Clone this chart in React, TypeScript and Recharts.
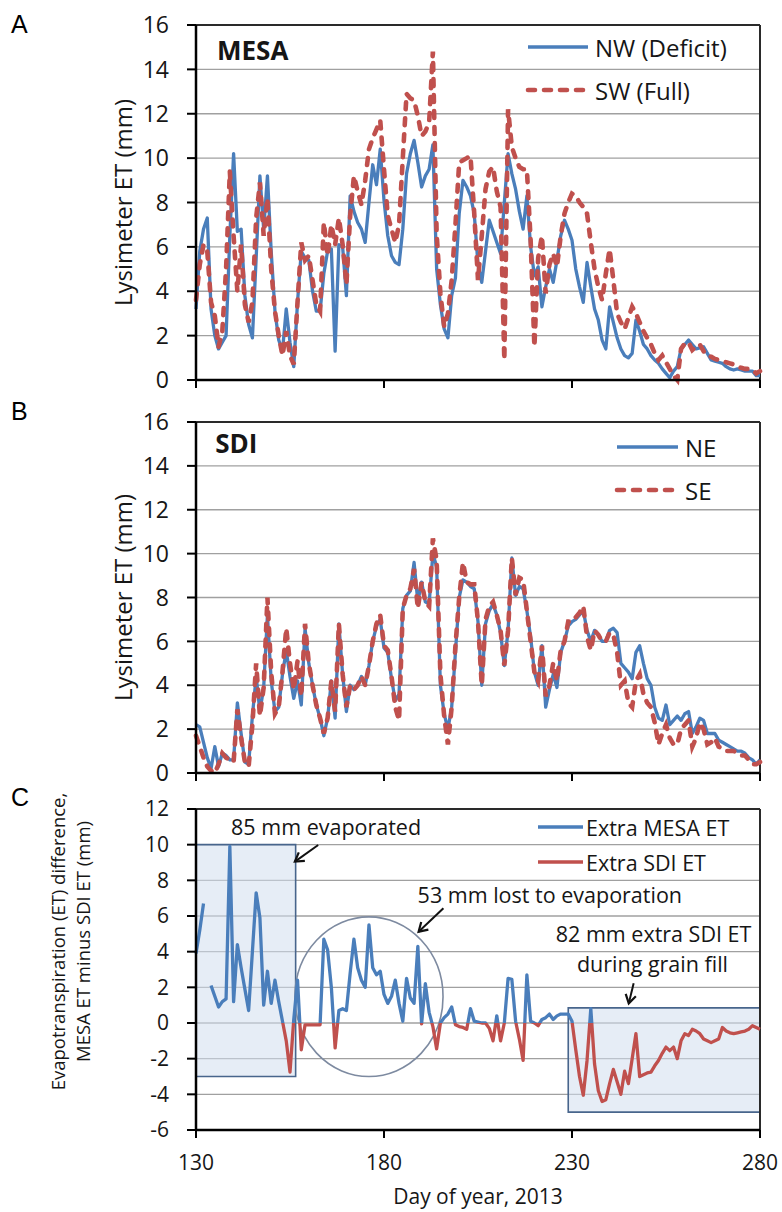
import React from 'react';
import {
  LineChart,
  Line,
  XAxis,
  YAxis,
  CartesianGrid,
  ReferenceLine,
  ReferenceArea,
  ReferenceDot,
  Legend,
} from 'recharts';

// ---- axes -------------------------------------------------------------
const FIRST_DAY = 130;
const DAY_TICKS = [130, 180, 230, 280];
const ET_TICKS = [0, 2, 4, 6, 8, 10, 12, 14, 16];
const DIFF_TICKS = [-6, -4, -2, 0, 2, 4, 6, 8, 10, 12];

// ---- daily lysimeter ET (mm), day of year 130..280 ---------------------
const MESA_NW = [
  3.2, 5.8, 6.8, 7.3, 3.2, 2.0, 1.4, 1.7, 2.0, 6.5,
  10.2, 6.7, 6.8, 3.8, 2.5, 1.9, 5.5, 9.2, 6.8, 9.2,
  5.8, 3.1, 1.8, 1.3, 3.2, 1.7, 0.6, 3.5, 5.8, 5.5,
  5.4, 4.0, 3.1, 3.1, 4.8, 5.8, 5.9, 1.3, 6.1, 6.0,
  3.8, 8.3, 7.6, 7.1, 6.8, 6.2, 8.0, 9.7, 8.8, 10.4,
  8.1, 6.5, 5.6, 5.3, 5.2, 6.8, 9.3, 10.2, 10.8, 9.8,
  8.7, 9.2, 9.5, 10.6, 5.0, 3.4, 2.3, 1.9, 3.8, 4.6,
  7.5, 9.0, 8.7, 8.3, 7.5, 5.2, 4.4, 5.8, 7.2, 6.7,
  6.2, 5.7, 8.0, 10.2, 9.3, 8.6, 7.6, 6.8, 8.3, 6.0,
  4.7, 5.1, 3.3, 4.2, 5.0, 4.4, 5.4, 6.5, 7.2, 6.8,
  6.3, 5.0, 4.2, 3.5, 5.3, 4.2, 3.2, 2.7, 1.8, 1.4,
  3.3, 2.6, 1.9, 1.4, 1.1, 1.0, 1.2, 2.7, 2.2, 1.6,
  1.4, 1.1, 0.9, 0.75, 0.5, 0.3, 0.1, 0.4, 0.6, 1.4,
  1.6, 1.8, 1.6, 1.4, 1.45, 1.5, 1.2, 0.9, 0.85, 0.8,
  0.75, 0.6, 0.5, 0.45, 0.5, 0.45, 0.4, 0.4, 0.4, 0.2,
  0.2,
];

const MESA_SW = [
  3.6, 5.2, 6.1, 5.8, 3.5, 2.9, 1.5, 2.2, 5.0, 9.4,
  6.5, 4.0, 6.1, 3.4, 2.6, 3.5, 7.3, 8.9, 6.5, 8.2,
  5.0, 3.1, 2.0, 1.1, 2.2, 1.1, 0.7, 3.5, 6.2, 5.4,
  5.6, 4.5, 3.4, 3.1, 7.1, 5.6, 7.0, 6.1, 7.3, 6.1,
  4.3, 7.4, 9.2, 8.5, 7.9, 9.0, 10.4, 10.9, 11.3, 11.7,
  9.5, 7.4, 6.8, 6.2, 7.0, 10.0, 12.9, 12.7, 12.6, 11.9,
  11.0, 11.2, 11.6, 14.8, 6.6, 3.9, 2.4, 3.0, 4.5, 7.0,
  9.8, 9.9, 10.0, 10.1, 7.5, 4.5, 6.5, 8.6, 9.4, 9.6,
  8.5, 7.8, 0.9, 12.2, 10.5, 10.0, 9.6, 9.5, 9.5, 6.3,
  1.5, 5.5, 6.5, 3.9, 5.2, 5.7, 5.1, 6.5, 7.5, 8.0,
  8.4, 8.3, 8.0, 7.8, 7.5, 6.2, 5.0, 4.2, 3.6, 4.8,
  5.9, 4.5, 3.0, 2.6, 2.3, 2.8, 3.3, 3.0, 2.6, 2.2,
  1.9, 1.6, 1.2, 0.9, 1.1, 0.8, 0.5, 0.2, 0.0, 1.4,
  1.65, 1.7, 1.35, 1.5, 1.6, 1.3, 1.1, 1.05, 0.95, 0.9,
  0.85, 0.8, 0.75, 0.7, 0.6, 0.55, 0.5, 0.5, 0.45, 0.3,
  0.4,
];

const SDI_NE = [
  2.2, 2.1, 1.4, 0.7, 0.2, 1.2, 0.3, 0.9, 0.8, 0.6,
  0.6, 3.2, 1.8, 0.5, 0.4, 2.6, 4.4, 2.8, 3.9, 7.2,
  4.2, 2.8, 3.0, 4.5, 5.6, 4.4, 3.4, 4.2, 3.1, 6.6,
  5.0, 4.0, 3.1, 2.5, 1.7, 2.5, 4.2, 2.5, 6.8, 4.5,
  2.8, 4.0, 3.8, 4.0, 4.4, 4.0, 4.9, 6.0, 6.7, 7.0,
  5.7, 5.5, 4.3, 3.3, 3.6, 7.5, 8.1, 8.3, 9.6, 7.8,
  8.7, 7.8, 7.7, 10.0, 9.4, 4.0, 2.7, 2.0, 3.0, 5.5,
  8.0, 8.8, 8.7, 8.5, 8.4, 6.9, 4.0, 6.8, 7.4, 7.7,
  7.2, 6.4, 4.9, 6.5, 9.8, 8.1, 8.5, 8.4, 7.4, 6.2,
  4.6, 4.0, 5.8, 3.0, 3.8, 4.5, 3.9, 5.5, 6.0, 6.7,
  6.9, 7.0, 7.2, 7.4, 6.5, 6.0, 6.5, 6.3, 6.0, 6.0,
  6.5, 6.6, 6.4, 5.0, 4.8, 4.6, 4.3, 5.5, 5.8, 5.0,
  4.3, 4.0, 3.0, 2.5, 2.4, 3.1, 2.2, 2.4, 2.6, 2.4,
  2.7, 2.8, 1.8, 2.1, 2.5, 2.4, 1.8, 1.8, 1.8, 1.5,
  1.4, 1.3, 1.2, 1.1, 1.0, 1.0, 0.9, 0.7, 0.6, 0.4,
  0.6,
];

const SDI_SE = [
  1.7, 1.2, 0.7, 0.3, 0.1, 0.0, 0.4, 0.9, 0.7, 0.6,
  0.5, 2.9, 1.6, 0.5, 0.3, 2.2, 5.0, 2.6, 3.9, 8.0,
  4.6, 2.7, 3.0, 4.6, 6.6, 5.0, 3.8, 5.1, 3.5, 6.8,
  5.0, 4.0, 3.1, 2.5, 1.8, 2.5, 4.2, 2.8, 6.8, 4.5,
  3.0, 4.0, 3.8, 4.0, 4.4, 4.0, 4.9, 6.0, 6.8, 7.2,
  5.8, 5.6, 4.4, 3.0, 2.4, 7.5, 8.1, 8.4, 9.3, 7.5,
  8.7, 7.8, 7.6, 10.7, 9.7, 4.5, 2.6, 1.3, 3.0, 5.8,
  8.0, 9.6, 8.7, 8.6, 8.6, 6.9, 4.0, 7.0, 7.6, 7.8,
  7.2, 6.5, 4.9, 6.5, 9.8, 8.1, 8.9, 8.8, 7.4, 6.0,
  4.6, 4.2, 5.8, 3.5, 4.0, 5.0, 4.2, 5.6, 6.0, 6.9,
  6.9, 7.1, 7.3, 7.6, 6.2, 5.6, 6.5, 6.3, 6.0, 6.0,
  6.4, 6.3, 5.5, 4.0, 4.2, 3.2, 3.0, 4.2, 4.5, 3.6,
  3.2, 3.0, 2.3, 1.3, 1.8, 2.2, 1.6, 1.3, 1.3, 2.0,
  2.2, 2.4, 1.2, 1.6, 2.3, 2.0, 1.3, 1.4, 1.6, 1.2,
  1.1, 1.0, 1.0, 1.0, 0.9, 0.8, 0.8, 0.6, 0.4, 0.4,
  0.5,
];

// MESA ET minus SDI ET (mm); positive = extra MESA ET, negative = extra SDI ET
const ET_DIFF: (number | null)[] = [
  3.9, 5.2, 6.7, null, 2.1, 1.5, 0.9, 1.2, 1.35, 9.9,
  1.2, 4.4, 3.1, 1.9, 0.7, 4.0, 7.3, 5.9, 1.0, 2.9,
  1.1, 2.4, 1.2, 0.1, -1.0, -2.75, 0.2, 2.4, -1.5, -0.1,
  -0.1, -0.1, -0.1, -0.1, 4.7, 4.1, 2.0, -1.4, 0.7, 0.8,
  0.7, 2.8, 4.7, 3.1, 2.4, 2.0, 5.5, 3.1, 2.7, 2.9,
  1.6, 1.1, 1.5, 2.4, 1.1, 0.1, 2.5, 1.4, 1.1, 4.3,
  -0.05, 2.2, 0.6, -0.2, -1.45, 0.0, 0.3, 0.5, 0.9, -0.1,
  -0.2, -0.25, -0.35, 0.8, 0.1, 0.05, 0.0, 0.0, -0.3, -1.0,
  0.4, -1.0, 0.0, 2.5, 2.45, 0.1, -0.9, -2.1, 2.7, 0.1,
  0.0, -0.15, 0.2, 0.3, 0.5, 0.2, 0.4, 0.5, 0.5, 0.5,
  0.1, -1.5, -3.0, -4.05, -2.1, 0.8, -2.3, -3.8, -4.4, -4.3,
  -3.4, -2.6, -3.3, -4.0, -2.7, -3.4, -2.0, -0.6, -3.0, -2.9,
  -2.8, -2.75, -2.4, -2.1, -1.7, -1.35, -1.55, -1.35, -2.0, -1.0,
  -0.6, -0.7, -0.35, -0.45, -0.6, -0.9, -1.0, -1.1, -1.0, -0.9,
  -0.25, -0.45, -0.55, -0.6, -0.55, -0.5, -0.45, -0.35, -0.15, -0.25,
  -0.35,
];

// highlighted periods in panel C (day range, mm range)
const EVAP_BOX = { x1: 130, x2: 156.5, y1: -3, y2: 10 };
const EVAP_RING = { x1: 156.3, x2: 195.7, y1: -3, y2: 5.95 };
const GRAIN_FILL_BOX = { x1: 229, x2: 280, y1: -5, y2: 0.85 };

const DAYS = MESA_NW.map((_, i) => FIRST_DAY + i);
const mesaData = DAYS.map((day, i) => ({ day, nw: MESA_NW[i], sw: MESA_SW[i] }));
const sdiData = DAYS.map((day, i) => ({ day, ne: SDI_NE[i], se: SDI_SE[i] }));
const diffData = DAYS.map((day, i) => ({ day, diff: ET_DIFF[i] }));

// where zero falls inside the difference line's bounding box
const diffVals = ET_DIFF.filter((v): v is number => v !== null);
const diffMax = Math.max(...diffVals);
const diffMin = Math.min(...diffVals);
const zeroOffset = diffMax / (diffMax - diffMin);

// ---- styling ----------------------------------------------------------
const BLUE = '#4a7ebb';
const RED = '#c0504d';
const FONT = '"Open Sans", "Noto Sans", sans-serif';
const INK = '#161616';
const GRID = '#a0a0a0';
const AXIS_LINE = { stroke: '#000', strokeWidth: 2.5 };
const TICK_LINE = { stroke: '#000', strokeWidth: 2 };
const FRAME = '#2a2a2a';
const WIDTH = 782;
const PLOT_LEFT = 196;
const MARGIN_RIGHT = 22;
const SOLID_W = 3.3;
const DASH_W = 4.6;
const DASH = '7 9';

type LegendItem = { label: string; color: string; dash?: string; width: number };

const legendContent =
  (items: LegendItem[], lineFrom: number, lineTo: number, textX: number, rowY: number[], size: number) =>
  () => (
    <svg width={260} height={rowY[rowY.length - 1] + 25} style={{ display: 'block', overflow: 'visible' }}>
      {items.map((it, i) => (
        <g key={it.label}>
          <line
            x1={lineFrom}
            x2={lineTo}
            y1={rowY[i]}
            y2={rowY[i]}
            stroke={it.color}
            strokeWidth={it.width}
            strokeDasharray={it.dash}
            strokeLinecap={it.dash ? 'round' : 'butt'}
          />
          <text
            x={textX}
            y={rowY[i]}
            dominantBaseline="central"
            fontFamily={FONT}
            fontSize={size}
            fill={INK}
          >
            {it.label}
          </text>
        </g>
      ))}
    </svg>
  );

const yLabel =
  (lines: string[], offsets: number[], shift: number, size: number) => (props: any) => {
    const vb = props.viewBox || {};
    const axisX = (vb.x || 0) + (vb.width || 0);
    const cy = (vb.y || 0) + (vb.height || 0) / 2 + shift;
    return (
      <g>
        {lines.map((t, i) => {
          const x = axisX - offsets[i];
          return (
            <text
              key={t}
              x={x}
              y={cy}
              transform={`rotate(-90 ${x} ${cy})`}
              textAnchor="middle"
              dominantBaseline="central"
              fontFamily={FONT}
              fontSize={size}
              fill={INK}
            >
              {t}
            </text>
          );
        })}
      </g>
    );
  };

const xLabel = (text: string, below: number, size: number) => (props: any) => {
  const vb = props.viewBox || {};
  return (
    <text
      x={(vb.x || 0) + (vb.width || 0) / 2}
      y={(vb.y || 0) + below}
      textAnchor="middle"
      fontFamily={FONT}
      fontSize={size}
      fill={INK}
    >
      {text}
    </text>
  );
};

const textAt =
  (text: string, size: number, anchor: 'start' | 'middle', weight: number = 400) =>
  (p: any) => (
    <text
      x={p.cx}
      y={p.cy}
      textAnchor={anchor}
      fontFamily={FONT}
      fontSize={size}
      fontWeight={weight}
      fill={INK}
    >
      {text}
    </text>
  );

const arrowShape = (p: any) => {
  const x1 = Number(p.x1);
  const y1 = Number(p.y1);
  const x2 = Number(p.x2);
  const y2 = Number(p.y2);
  const ang = Math.atan2(y2 - y1, x2 - x1);
  const len = 10;
  const spread = 0.55;
  const a = [x2 - len * Math.cos(ang - spread), y2 - len * Math.sin(ang - spread)];
  const b = [x2 - len * Math.cos(ang + spread), y2 - len * Math.sin(ang + spread)];
  return (
    <g>
      <line x1={x1} y1={y1} x2={x2} y2={y2} stroke="#111" strokeWidth={2} />
      <polyline
        points={`${a[0]},${a[1]} ${x2},${y2} ${b[0]},${b[1]}`}
        fill="none"
        stroke="#111"
        strokeWidth={2.2}
        strokeLinejoin="miter"
      />
    </g>
  );
};

const ringShape = (p: any) => {
  const w = Number(p.width);
  const h = Number(p.height);
  return (
    <ellipse
      cx={Number(p.x) + w / 2}
      cy={Number(p.y) + h / 2}
      rx={w / 2}
      ry={h / 2}
      fill="none"
      stroke="#7d8aa0"
      strokeWidth={1.6}
    />
  );
};

const xAxisNoLabels = (
  <XAxis
    type="number"
    dataKey="day"
    domain={[130, 280]}
    ticks={DAY_TICKS}
    interval={0}
    height={12}
    tickSize={8}
    tickFormatter={() => ''}
    axisLine={AXIS_LINE}
    tickLine={TICK_LINE}
  />
);

function PanelLetters() {
  const letters = [
    { t: 'A', y: 33 },
    { t: 'B', y: 420 },
    { t: 'C', y: 806 },
  ];
  return (
    <svg
      width={WIDTH}
      height={1212}
      style={{ position: 'absolute', left: 0, top: 0, pointerEvents: 'none' }}
    >
      {letters.map((l) => (
        <text key={l.t} x={11} y={l.y} fontFamily='"Liberation Sans", Arial, sans-serif' fontSize={25} fill="#000">
          {l.t}
        </text>
      ))}
    </svg>
  );
}

export default function App() {
  return (
    <div style={{ position: 'absolute', left: 0, top: 0, width: WIDTH, height: 1212, background: '#fff' }}>
      {/* A: MESA lysimeters */}
      <div style={{ position: 'absolute', left: 0, top: 0 }}>
        <LineChart width={WIDTH} height={395} data={mesaData} margin={{ top: 25, right: MARGIN_RIGHT, bottom: 3, left: 0 }}>
          <CartesianGrid vertical={false} stroke={GRID} strokeWidth={1.3} />
          {xAxisNoLabels}
          <YAxis
            type="number"
            domain={[0, 16]}
            ticks={ET_TICKS}
            interval={0}
            width={PLOT_LEFT}
            tickSize={9}
            tickMargin={18}
            axisLine={AXIS_LINE}
            tickLine={TICK_LINE}
            tick={{ fontSize: 23, fill: INK, fontFamily: FONT }}
            label={yLabel(['Lysimeter ET (mm)'], [74], 0, 24)}
          />
          <ReferenceLine y={16} stroke={FRAME} strokeWidth={2} />
          <ReferenceLine x={280} stroke={FRAME} strokeWidth={2} />
          <Line
            type="linear"
            dataKey="nw"
            name="NW (Deficit)"
            stroke={BLUE}
            strokeWidth={SOLID_W}
            dot={false}
            strokeLinejoin="round"
            isAnimationActive={false}
          />
          <Line
            type="linear"
            dataKey="sw"
            name="SW (Full)"
            stroke={RED}
            strokeWidth={DASH_W}
            strokeDasharray={DASH}
            strokeLinecap="round"
            dot={false}
            isAnimationActive={false}
          />
          <ReferenceDot x={135.6} y={14.42} r={0} shape={textAt('MESA', 26, 'start', 700)} />
          <Legend
            layout="vertical"
            align="center"
            verticalAlign="middle"
            wrapperStyle={{ left: 520, top: 25, width: 260, height: 90 }}
            content={legendContent(
              [
                { label: 'NW (Deficit)', color: BLUE, width: SOLID_W },
                { label: 'SW (Full)', color: RED, width: DASH_W, dash: DASH },
              ],
              8,
              68,
              75,
              [22, 65],
              24,
            )}
          />
        </LineChart>
      </div>

      {/* B: SDI lysimeters */}
      <div style={{ position: 'absolute', left: 0, top: 395 }}>
        <LineChart width={WIDTH} height={393} data={sdiData} margin={{ top: 27, right: MARGIN_RIGHT, bottom: 3, left: 0 }}>
          <CartesianGrid vertical={false} stroke={GRID} strokeWidth={1.3} />
          {xAxisNoLabels}
          <YAxis
            type="number"
            domain={[0, 16]}
            ticks={ET_TICKS}
            interval={0}
            width={PLOT_LEFT}
            tickSize={9}
            tickMargin={18}
            axisLine={AXIS_LINE}
            tickLine={TICK_LINE}
            tick={{ fontSize: 23, fill: INK, fontFamily: FONT }}
            label={yLabel(['Lysimeter ET (mm)'], [74], 0, 24)}
          />
          <ReferenceLine y={16} stroke={FRAME} strokeWidth={2} />
          <ReferenceLine x={280} stroke={FRAME} strokeWidth={2} />
          <Line
            type="linear"
            dataKey="ne"
            name="NE"
            stroke={BLUE}
            strokeWidth={SOLID_W}
            dot={false}
            strokeLinejoin="round"
            isAnimationActive={false}
          />
          <Line
            type="linear"
            dataKey="se"
            name="SE"
            stroke={RED}
            strokeWidth={DASH_W}
            strokeDasharray={DASH}
            strokeLinecap="round"
            dot={false}
            isAnimationActive={false}
          />
          <ReferenceDot x={135.1} y={14.59} r={0} shape={textAt('SDI', 26, 'start', 700)} />
          <Legend
            layout="vertical"
            align="center"
            verticalAlign="middle"
            wrapperStyle={{ left: 600, top: 20, width: 180, height: 95 }}
            content={legendContent(
              [
                { label: 'NE', color: BLUE, width: SOLID_W },
                { label: 'SE', color: RED, width: DASH_W, dash: DASH },
              ],
              17,
              78,
              85,
              [32, 75],
              24,
            )}
          />
        </LineChart>
      </div>

      {/* C: MESA minus SDI */}
      <div style={{ position: 'absolute', left: 0, top: 788 }}>
        <LineChart width={WIDTH} height={424} data={diffData} margin={{ top: 21, right: MARGIN_RIGHT, bottom: 0, left: 0 }}>
          <defs>
            <linearGradient id="extraMesaStroke" x1="0" y1="0" x2="0" y2="1">
              <stop offset={0} stopColor={BLUE} stopOpacity={1} />
              <stop offset={zeroOffset} stopColor={BLUE} stopOpacity={1} />
              <stop offset={zeroOffset} stopColor={BLUE} stopOpacity={0} />
              <stop offset={1} stopColor={BLUE} stopOpacity={0} />
            </linearGradient>
            <linearGradient id="extraSdiStroke" x1="0" y1="0" x2="0" y2="1">
              <stop offset={0} stopColor={RED} stopOpacity={0} />
              <stop offset={zeroOffset} stopColor={RED} stopOpacity={0} />
              <stop offset={zeroOffset} stopColor={RED} stopOpacity={1} />
              <stop offset={1} stopColor={RED} stopOpacity={1} />
            </linearGradient>
          </defs>
          <CartesianGrid vertical={false} stroke={GRID} strokeWidth={1.3} />
          <ReferenceArea
            {...EVAP_BOX}
            fill="#d2deee"
            fillOpacity={0.55}
            stroke="#48658c"
            strokeWidth={1.6}
          />
          <ReferenceArea
            {...GRAIN_FILL_BOX}
            fill="#d2deee"
            fillOpacity={0.55}
            stroke="#48658c"
            strokeWidth={1.6}
          />
          <ReferenceArea {...EVAP_RING} shape={ringShape} />
          <XAxis
            type="number"
            dataKey="day"
            domain={[130, 280]}
            ticks={DAY_TICKS}
            interval={0}
            height={82}
            tickSize={8}
            tickMargin={17}
            axisLine={AXIS_LINE}
            tickLine={TICK_LINE}
            tick={{ fontSize: 21, fill: INK, fontFamily: FONT }}
            label={xLabel('Day of year, 2013', 74, 21)}
          />
          <YAxis
            type="number"
            domain={[-6, 12]}
            ticks={DIFF_TICKS}
            interval={0}
            width={PLOT_LEFT}
            tickSize={9}
            tickMargin={18}
            axisLine={AXIS_LINE}
            tickLine={TICK_LINE}
            tick={{ fontSize: 21, fill: INK, fontFamily: FONT }}
            label={yLabel(
              ['Evapotranspiration (ET) difference,', 'MESA ET minus SDI ET (mm)'],
              [139, 114],
              -28,
              18.5,
            )}
          />
          <ReferenceLine y={12} stroke={FRAME} strokeWidth={2} />
          <ReferenceLine x={280} stroke={FRAME} strokeWidth={2} />
          <Line
            type="linear"
            dataKey="diff"
            name="Extra MESA ET"
            stroke="url(#extraMesaStroke)"
            strokeWidth={3.3}
            dot={false}
            strokeLinejoin="round"
            isAnimationActive={false}
          />
          <Line
            type="linear"
            dataKey="diff"
            name="Extra SDI ET"
            stroke="url(#extraSdiStroke)"
            strokeWidth={3.3}
            dot={false}
            strokeLinejoin="round"
            isAnimationActive={false}
          />
          <ReferenceLine segment={[{ x: 162.5, y: 9.98 }, { x: 156.3, y: 9.05 }]} shape={arrowShape} />
          <ReferenceLine segment={[{ x: 195.8, y: 6.43 }, { x: 189.2, y: 5.12 }]} shape={arrowShape} />
          <ReferenceLine segment={[{ x: 246.4, y: 2.23 }, { x: 245.1, y: 1.1 }]} shape={arrowShape} />
          <ReferenceDot x={164.6} y={10.54} r={0} shape={textAt('85 mm evaporated', 21.5, 'middle')} />
          <ReferenceDot x={224.1} y={6.75} r={0} shape={textAt('53 mm lost to evaporation', 21.5, 'middle')} />
          <ReferenceDot x={251.7} y={4.56} r={0} shape={textAt('82 mm extra SDI ET', 21.5, 'middle')} />
          <ReferenceDot x={251.4} y={2.88} r={0} shape={textAt('during grain fill', 21.5, 'middle')} />
          <Legend
            layout="vertical"
            align="center"
            verticalAlign="middle"
            wrapperStyle={{ left: 530, top: 20, width: 240, height: 75 }}
            content={legendContent(
              [
                { label: 'Extra MESA ET', color: BLUE, width: 3.3 },
                { label: 'Extra SDI ET', color: RED, width: 3.3 },
              ],
              8,
              53,
              56,
              [19, 54],
              21.5,
            )}
          />
        </LineChart>
      </div>

      <PanelLetters />
    </div>
  );
}
